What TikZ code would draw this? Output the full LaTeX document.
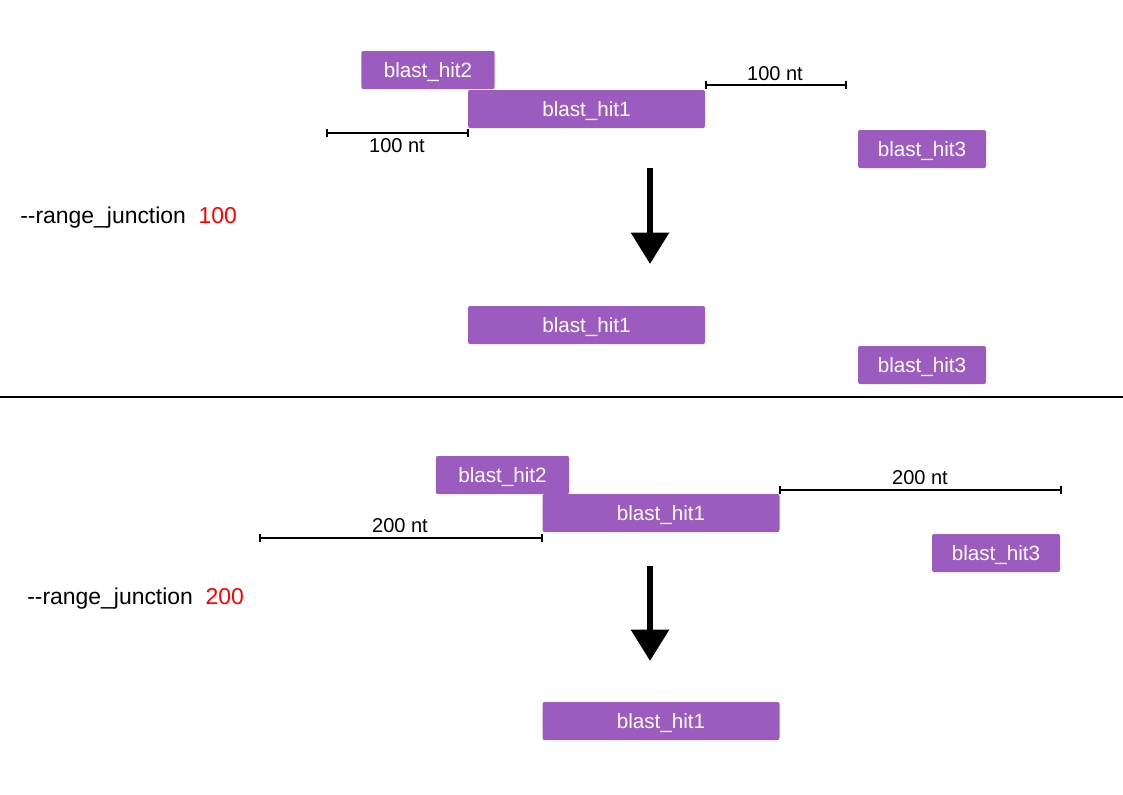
\documentclass[tikz,border=0pt]{standalone}
\usepackage{fontspec}
\setmainfont{Liberation Sans}
\usetikzlibrary{arrows.meta}
\definecolor{hitc}{HTML}{9C5CBF}
\definecolor{redc}{HTML}{FF0000}
\tikzset{
  hit/.style={fill=hitc, text=white, rounded corners=1.5pt, minimum height=28.5pt, inner sep=0pt, text depth=0pt, font=\fontsize{15.5pt}{18pt}\selectfont},
  wide/.style={minimum width=177.75pt},
  narrowa/.style={minimum width=100pt},
  narrowb/.style={minimum width=96pt},
  bar/.style={line width=1.5pt, {Bar[width=6pt,line width=1.5pt]}-{Bar[width=6pt,line width=1.5pt]}},
  ntlabel/.style={inner sep=0pt, font=\fontsize{15pt}{18pt}\selectfont},
  rjlabel/.style={inner sep=0pt, anchor=base west, font=\fontsize{17.2pt}{20pt}\selectfont},
  bigarrow/.style={line width=5pt, -{Triangle[width=27.5pt,length=23.5pt]}},
}
\begin{document}
\begin{tikzpicture}[x=0.75pt,y=-0.75pt]
\useasboundingbox (0,0) rectangle (1123,794);
% ---------- top section ----------
\node[hit,narrowa] (t2) at (428,70) {blast\_hit2};
\node[hit,wide] (t1) at (586.5,109) {blast\_hit1};
\node[hit,narrowb] (t3) at (922,149) {blast\_hit3};
\coordinate (tla) at (326,133);
\coordinate (tlb) at (469,133);
\draw[bar] (tla) -- (tlb);
\node[ntlabel] (tll) at (397,145.5) {100 nt};
\coordinate (tra) at (704.5,84.5);
\coordinate (trb) at (847,84.5);
\draw[bar] (tra) -- (trb);
\node[ntlabel] (trl) at (775,73.5) {100 nt};
\node[rjlabel] (rj1) at (20,223) {-\kern0pt-range\_junction\hspace{0.55em}\textcolor{redc}{100}};
\coordinate (ta1) at (650,168);
\coordinate (ta2) at (650,264);
\draw[bigarrow] (ta1) -- (ta2);
\node[hit,wide] (r1) at (586.5,325) {blast\_hit1};
\node[hit,narrowb] (r3) at (922,365) {blast\_hit3};
% ---------- separator ----------
\coordinate (sl) at (0,397);
\coordinate (sr) at (1123,397);
\draw[line width=1.9pt] (sl) -- (sr);
% ---------- bottom section ----------
\node[hit,narrowa] (b2) at (502.5,475) {blast\_hit2};
\node[hit,wide] (b1) at (661,513) {blast\_hit1};
\node[hit,narrowb] (b3) at (996,553) {blast\_hit3};
\coordinate (bla) at (259,537.5);
\coordinate (blb) at (543,537.5);
\draw[bar] (bla) -- (blb);
\node[ntlabel] (bll) at (400,525.5) {200 nt};
\coordinate (bra) at (778.5,489.5);
\coordinate (brb) at (1062,489.5);
\draw[bar] (bra) -- (brb);
\node[ntlabel] (brl) at (920,478) {200 nt};
\node[rjlabel] (rj2) at (27,604) {-\kern0pt-range\_junction\hspace{0.55em}\textcolor{redc}{200}};
\coordinate (ba1) at (650,566);
\coordinate (ba2) at (650,661);
\draw[bigarrow] (ba1) -- (ba2);
\node[hit,wide] (s1) at (661,721) {blast\_hit1};
\end{tikzpicture}
\end{document}
